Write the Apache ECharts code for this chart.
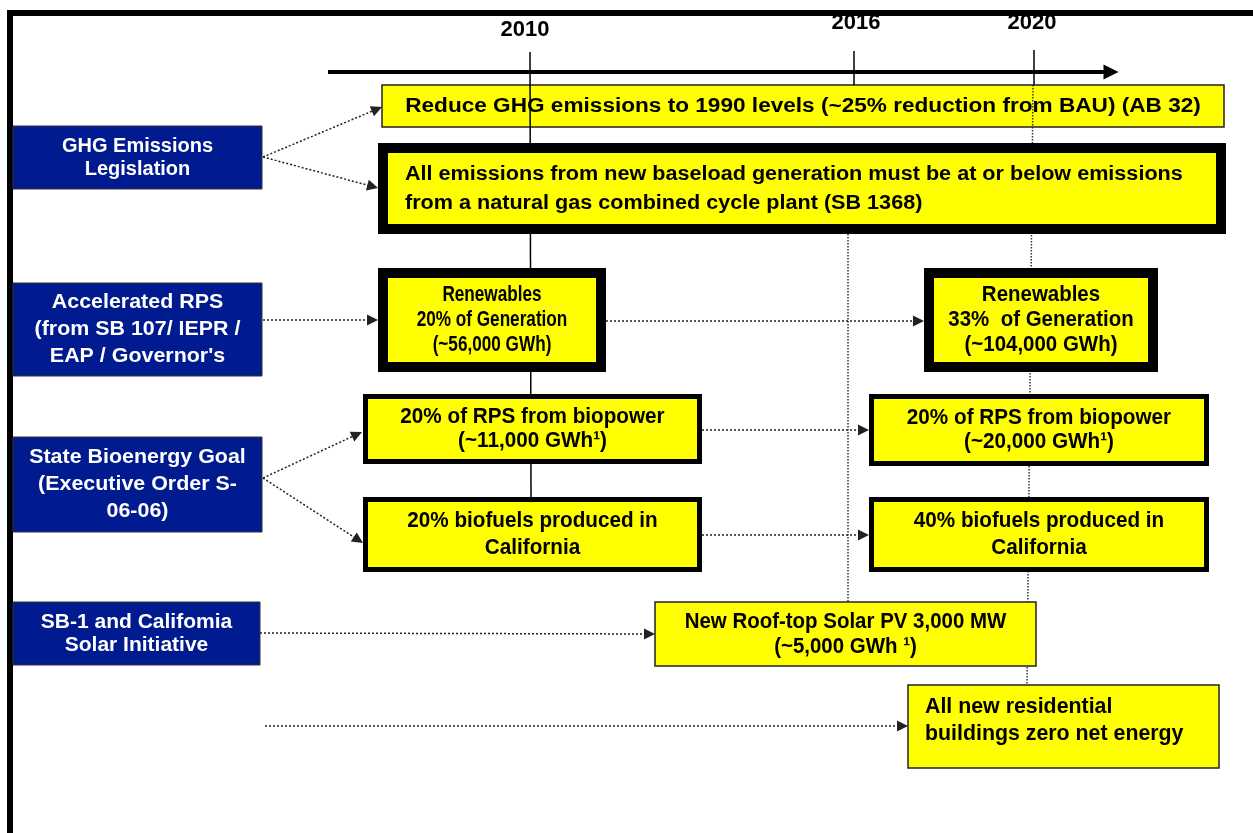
<!DOCTYPE html>
<html>
<head>
<meta charset="utf-8">
<script src="https://cdn.jsdelivr.net/npm/echarts@6/dist/echarts.min.js"></script>
<style>
  html, body { margin: 0; padding: 0; background: #fff; }
  #chart { width: 1253px; height: 833px; }
</style>
</head>
<body>
<div id="chart"></div>
<script>
// timeline years
const years = ['2010', '2016', '2020'];

// policy drivers (blue boxes on the left)
const policies = [
  'GHG Emissions\nLegislation',
  'Accelerated RPS\n(from SB 107/ IEPR /\nEAP / Governor\'s',
  'State Bioenergy Goal\n(Executive Order S-\n06-06)',
  'SB-1 and Califomia\nSolar Initiative'
];

// targets (yellow boxes)
const targets = [
  'Reduce GHG emissions to 1990 levels (~25% reduction from BAU) (AB 32)',
  'All emissions from new baseload generation must be at or below emissions\nfrom a natural gas combined cycle plant (SB 1368)',
  'Renewables\n20% of Generation\n(~56,000 GWh)',
  'Renewables\n33%  of Generation\n(~104,000 GWh)',
  '20% of RPS from biopower\n(~11,000 GWh¹)',
  '20% of RPS from biopower\n(~20,000 GWh¹)',
  '20% biofuels produced in\nCalifornia',
  '40% biofuels produced in\nCalifornia',
  'New Roof-top Solar PV 3,000 MW\n(~5,000 GWh ¹)',
  'All new residential\nbuildings zero net energy'
];

// ---- layout (diagram units = page pixels) ----
const W = 1253, H = 833;
const policyBox = [[13, 126, 262, 189], [13, 283, 262, 376], [13, 437, 262, 532], [13, 602, 260, 665]];
const policyLH = [23, 27, 27, 23];
const policyFont = [[20, 1.0], [21, 1.02], [21, 1.02], [21, 1.0]]; // [size, scaleX]
const targetBox = [
  [382, 85, 1224, 127], [378, 143, 1226, 234], [378, 268, 606, 372], [924, 268, 1158, 372],
  [363, 394, 702, 464], [869, 394, 1209, 466], [363, 497, 702, 572], [869, 497, 1209, 572],
  [655, 602, 1036, 666], [908, 685, 1219, 768]
];
const targetBorder = [1.5, 10, 10, 10, 5, 5, 5, 5, 1.5, 1.5];
const targetLH = [24, 29, 25, 25, 24, 24, 27, 27, 25, 27];
const targetFont = [[20, 1.13], [20, 1.08], [22, 0.78], [22, 0.93], [22, 0.94], [22, 0.94],
  [22, 0.94], [22, 0.94], [22, 0.93], [22, 0.97]];
// arrow start and tip
const arrowPath = [
  [263, 157, 382, 107], [263, 157, 378, 188], [263, 320, 378, 320], [606, 321, 924, 321],
  [263, 478, 362, 432], [702, 430, 869, 430], [263, 478, 363, 543], [702, 535, 869, 535],
  [260, 633, 655, 634], [265, 726, 908, 726]
];
const yearLabelPos = [[525, 30], [856, 23], [1032, 23]];
const yearSolid = [[530, 52, 531, 497], [854, 51, 854, 85], [1034, 50, 1034, 85]];
const yearDotted = [[848, 234, 848, 602], [1033, 85, 1027, 685]];

const FAMILY = '"Liberation Sans", Arial, sans-serif';
const NAVY = '#001a8f';
const YELLOW = '#ffff00';

const chart = echarts.init(document.getElementById('chart'));

function font(size) {
  return 'bold ' + size + 'px ' + FAMILY;
}

// pull the arrow end back so the triangle tip lands on the box edge
function shorten(p, d) {
  const dx = p[2] - p[0], dy = p[3] - p[1];
  const len = Math.sqrt(dx * dx + dy * dy);
  return [[p[0], p[1]], [p[2] - dx / len * d, p[3] - dy / len * d]];
}

function boxShape(box, api) {
  const a = api.coord([box[0], box[1]]);
  const b = api.coord([box[2], box[3]]);
  return { x: a[0], y: a[1], width: b[0] - a[0], height: b[1] - a[1] };
}

function renderPolicy(params, api) {
  const i = params.dataIndex;
  const r = boxShape(policyBox[i], api);
  return {
    type: 'group',
    children: [
      { type: 'rect', shape: r, style: { fill: NAVY, stroke: '#333', lineWidth: 1 } },
      {
        type: 'text',
        x: r.x + r.width / 2, y: r.y + r.height / 2,
        scaleX: policyFont[i][1],
        style: {
          text: policies[i], fill: '#fff', font: font(policyFont[i][0]),
          align: 'center', verticalAlign: 'middle', lineHeight: policyLH[i]
        }
      }
    ]
  };
}

function renderTarget(params, api) {
  const i = params.dataIndex;
  const r = boxShape(targetBox[i], api);
  const bw = targetBorder[i];
  const children = [];
  if (bw > 2) {
    children.push({ type: 'rect', shape: r, style: { fill: '#000' } });
    children.push({ type: 'rect', shape: { x: r.x + bw, y: r.y + bw, width: r.width - 2 * bw, height: r.height - 2 * bw }, style: { fill: YELLOW } });
  } else {
    children.push({ type: 'rect', shape: r, style: { fill: YELLOW, stroke: '#222', lineWidth: bw } });
  }
  const left = i === 1 || i === 9;
  children.push({
    type: 'text',
    x: left ? r.x + (i === 1 ? 27 : 17) : r.x + r.width / 2,
    y: i === 9 ? r.y + 8 : r.y + r.height / 2,
    scaleX: targetFont[i][1],
    style: {
      text: targets[i], fill: '#000', font: font(targetFont[i][0]),
      align: left ? 'left' : 'center', verticalAlign: i === 9 ? 'top' : 'middle',
      lineHeight: targetLH[i]
    }
  });
  return { type: 'group', children: children };
}

function renderYear(params, api) {
  const p = api.coord([api.value(0), api.value(1)]);
  return {
    type: 'text', x: p[0], y: p[1],
    style: { text: years[params.dataIndex], fill: '#000', font: font(22), align: 'center', verticalAlign: 'middle' }
  };
}

const option = {
  animation: false,
  backgroundColor: '#fff',
  grid: { left: 0, right: 0, top: 0, bottom: 0 },
  xAxis: { type: 'value', min: 0, max: W, show: false },
  yAxis: { type: 'value', min: 0, max: H, inverse: true, show: false },
  graphic: [
    // page frame
    { type: 'rect', shape: { x: 7, y: 10, width: W - 7, height: 6 }, style: { fill: '#000' } },
    { type: 'rect', shape: { x: 7, y: 10, width: 6, height: H - 10 }, style: { fill: '#000' } }
  ],
  series: [
    {
      // first target sits under the year lines
      type: 'custom', z: 2, silent: true,
      renderItem: (params, api) => (params.dataIndex === 0 ? renderTarget(params, api) : null),
      data: targetBox
    },
    {
      type: 'lines', coordinateSystem: 'cartesian2d', z: 3, silent: true,
      symbol: 'none',
      lineStyle: { color: '#000', width: 1.5, opacity: 1 },
      data: yearSolid.map((p) => ({ coords: [[p[0], p[1]], [p[2], p[3]]] }))
    },
    {
      type: 'lines', coordinateSystem: 'cartesian2d', z: 3, silent: true,
      symbol: 'none',
      lineStyle: { color: '#333', width: 1.5, type: [1.5, 1.5], opacity: 1 },
      data: yearDotted.map((p) => ({ coords: [[p[0], p[1]], [p[2], p[3]]] }))
    },
    {
      // timeline arrow
      type: 'lines', coordinateSystem: 'cartesian2d', z: 3, silent: true,
      symbol: ['none', 'triangle'], symbolSize: [16, 15],
      lineStyle: { color: '#000', width: 4, opacity: 1 },
      data: [{ coords: shorten([328, 72, 1118, 72], 7) }]
    },
    {
      type: 'custom', z: 3, silent: true,
      renderItem: renderYear,
      data: yearLabelPos
    },
    {
      type: 'custom', z: 4, silent: true,
      renderItem: (params, api) => (params.dataIndex === 0 ? null : renderTarget(params, api)),
      data: targetBox
    },
    {
      type: 'custom', z: 4, silent: true,
      renderItem: renderPolicy,
      data: policyBox
    },
    {
      type: 'lines', coordinateSystem: 'cartesian2d', z: 5, silent: true,
      symbol: ['none', 'triangle'], symbolSize: 11,
      lineStyle: { color: '#222', width: 1.5, type: [2, 2], opacity: 1 },
      data: arrowPath.map((p) => ({ coords: shorten(p, 5.5) }))
    }
  ]
};

chart.setOption(option);
</script>
</body>
</html>
